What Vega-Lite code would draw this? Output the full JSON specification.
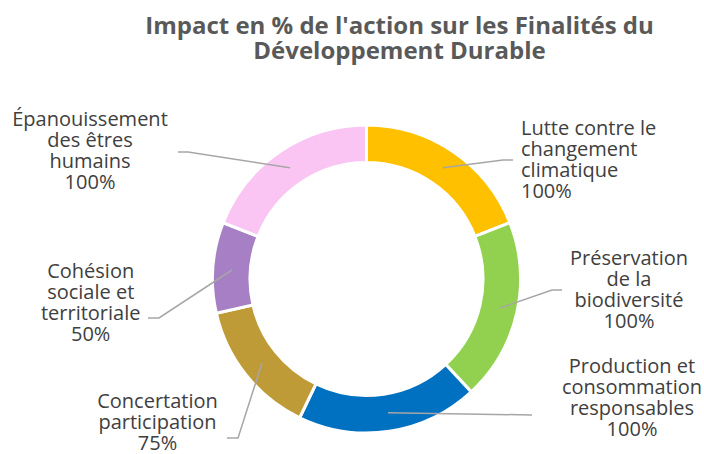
{
  "$schema": "https://vega.github.io/schema/vega-lite/v6.json",
  "width": 675,
  "height": 350,
  "autosize": {"type": "none"},
  "padding": {"left": 29, "top": 104, "right": 0, "bottom": 0},
  "background": "white",
  "title": {
    "text": ["Impact en % de l'action sur les Finalités du", "Développement Durable"],
    "anchor": "middle",
    "dx": 33,
    "offset": 40,
    "font": "Open Sans",
    "fontSize": 24,
    "fontWeight": "bold",
    "color": "#595959",
    "lineHeight": 25
  },
  "config": {"view": {"stroke": null}},
  "datasets": {
    "segments": [
      {"rank": 1, "name": "Lutte contre le\nchangement\nclimatique", "value": 100, "lx": 154.5, "ly": 150},
      {"rank": 2, "name": "Préservation\nde la\nbiodiversité", "value": 100, "lx": 262.5, "ly": 20},
      {"rank": 3, "name": "Production et\nconsommation\nresponsables", "value": 100, "lx": 265.5, "ly": -88},
      {"rank": 4, "name": "Concertation\nparticipation", "value": 75, "lx": -209, "ly": -123},
      {"rank": 5, "name": "Cohésion\nsociale et\nterritoriale", "value": 50, "lx": -275.8, "ly": 7},
      {"rank": 6, "name": "Épanouissement\ndes êtres\nhumains", "value": 100, "lx": -276.5, "ly": 159}
    ],
    "leaders": [
      {"rank": 1, "step": 1, "x": 76.5, "y": 111.3},
      {"rank": 1, "step": 2, "x": 136.5, "y": 119},
      {"rank": 1, "step": 3, "x": 146.5, "y": 119},
      {"rank": 2, "step": 1, "x": 133.5, "y": -29},
      {"rank": 2, "step": 2, "x": 185.5, "y": -11},
      {"rank": 2, "step": 3, "x": 195.5, "y": -11},
      {"rank": 3, "step": 1, "x": 21.5, "y": -133.7},
      {"rank": 3, "step": 2, "x": 165.5, "y": -136},
      {"rank": 4, "step": 1, "x": -104.5, "y": -84},
      {"rank": 4, "step": 2, "x": -128.5, "y": -159},
      {"rank": 4, "step": 3, "x": -139.5, "y": -159},
      {"rank": 5, "step": 1, "x": -134.5, "y": 9},
      {"rank": 5, "step": 2, "x": -207.5, "y": -39},
      {"rank": 5, "step": 3, "x": -218.5, "y": -39},
      {"rank": 6, "step": 1, "x": -76.5, "y": 111.3},
      {"rank": 6, "step": 2, "x": -178.5, "y": 127},
      {"rank": 6, "step": 3, "x": -188.5, "y": 127}
    ]
  },
  "layer": [
    {
      "data": {"name": "segments"},
      "mark": {"type": "arc", "outerRadius": 154, "innerRadius": 116.5, "stroke": "white", "strokeWidth": 3},
      "encoding": {
        "theta": {"field": "value", "type": "quantitative", "stack": true},
        "order": {"field": "rank", "type": "quantitative"},
        "color": {
          "field": "rank",
          "type": "nominal",
          "legend": null,
          "scale": {
            "domain": [1, 2, 3, 4, 5, 6],
            "range": ["#FFC000", "#92D050", "#0070C0", "#BF9B38", "#A67FC4", "#FAC5F3"]
          }
        }
      }
    },
    {
      "data": {"name": "leaders"},
      "mark": {"type": "line", "color": "#A6A6A6", "strokeWidth": 1.5},
      "encoding": {
        "x": {"field": "x", "type": "quantitative", "scale": {"domain": [-337.5, 337.5]}, "axis": null},
        "y": {"field": "y", "type": "quantitative", "scale": {"domain": [-175, 175]}, "axis": null},
        "detail": {"field": "rank", "type": "nominal"},
        "order": {"field": "step", "type": "quantitative"}
      }
    },
    {
      "data": {"name": "segments"},
      "transform": [
        {"filter": "datum.rank != 1"},
        {"calculate": "datum.name + '\\n' + datum.value + '%'", "as": "label"}
      ],
      "mark": {"type": "text", "align": "center", "baseline": "middle", "font": "Open Sans", "fontSize": 20, "lineHeight": 21, "color": "#404040", "lineBreak": "\n"},
      "encoding": {
        "x": {"field": "lx", "type": "quantitative", "scale": {"domain": [-337.5, 337.5]}, "axis": null},
        "y": {"field": "ly", "type": "quantitative", "scale": {"domain": [-175, 175]}, "axis": null},
        "text": {"field": "label"}
      }
    },
    {
      "data": {"name": "segments"},
      "transform": [
        {"filter": "datum.rank == 1"},
        {"calculate": "datum.name + '\\n' + datum.value + '%'", "as": "label"}
      ],
      "mark": {"type": "text", "align": "left", "baseline": "middle", "font": "Open Sans", "fontSize": 20, "lineHeight": 21, "color": "#404040", "lineBreak": "\n"},
      "encoding": {
        "x": {"field": "lx", "type": "quantitative", "scale": {"domain": [-337.5, 337.5]}, "axis": null},
        "y": {"field": "ly", "type": "quantitative", "scale": {"domain": [-175, 175]}, "axis": null},
        "text": {"field": "label"}
      }
    }
  ]
}
